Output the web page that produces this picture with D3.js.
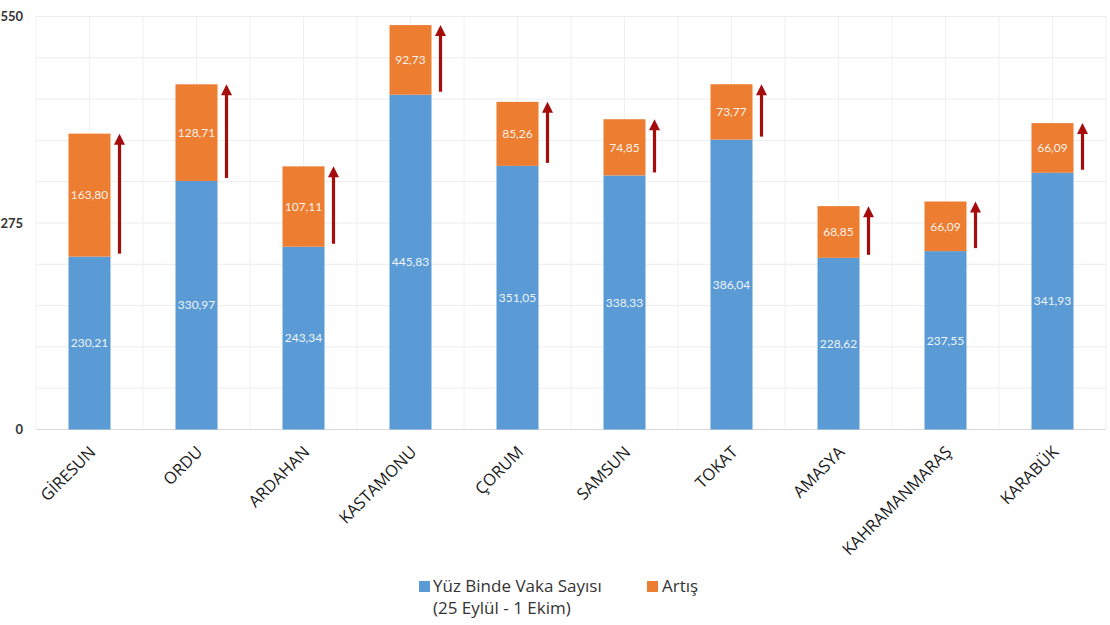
<!DOCTYPE html>
<html><head><meta charset="utf-8">
<script src="https://cdn.jsdelivr.net/npm/d3@7"></script>
<style>
html,body{margin:0;padding:0;background:#fff;}
svg{display:block;font-family:Lato,"Open Sans",sans-serif;}
</style></head>
<body><svg id="c" width="1110" height="625"></svg>
<script>
const categories = ["GİRESUN","ORDU","ARDAHAN","KASTAMONU","ÇORUM","SAMSUN","TOKAT","AMASYA","KAHRAMANMARAŞ","KARABÜK"];
const baseValues = [230.21,330.97,243.34,445.83,351.05,338.33,386.04,228.62,237.55,341.93];
const increaseValues = [163.80,128.71,107.11,92.73,85.26,74.85,73.77,68.85,66.09,66.09];
const yTicks = [0,275,550];
const yGrid = [0,55,110,165,220,275,330,385,440,495,550];
const seriesNames = ["Yüz Binde Vaka Sayısı|(25 Eylül - 1 Ekim)","Artış"];
const colors = ["#5b9bd5","#ed7d31"];

const svg = d3.select("#c");
const x = d3.scaleBand().domain(categories).range([36,1106]);
const y = d3.scaleLinear().domain([0,550]).range([429.5,16.5]);
const bw = 42;
const fmt = v => v.toFixed(2).replace(".", ",");

// gridlines
const g = svg.append("g");
g.selectAll("line.h").data(yGrid).join("line")
  .attr("x1",36).attr("x2",1106).attr("y1",d=>y(d)).attr("y2",d=>y(d))
  .attr("stroke",d=>d===0?"#d9d9d9":"#ececec").attr("stroke-width",1);
const vpos = [];
categories.forEach(c=>{vpos.push(x(c)); vpos.push(x(c)+x.bandwidth()/2);});
vpos.push(x(categories[categories.length-1])+x.bandwidth());
g.selectAll("line.v").data(vpos).join("line")
  .attr("x1",d=>d).attr("x2",d=>d).attr("y1",y(550)).attr("y2",y(0))
  .attr("stroke","#f0f0f0").attr("stroke-width",1);

// y axis labels
svg.append("g").selectAll("text").data(yTicks).join("text")
  .attr("x",23).attr("y",d=>y(d)).attr("dy","0.35em").attr("text-anchor","end")
  .attr("font-size",13).attr("font-weight","bold").attr("fill","#333")
  .text(d=>d);

const cx = c => x(c)+x.bandwidth()/2;
const data = categories.map((c,i)=>({c,b:baseValues[i],a:increaseValues[i]}));

// bars
svg.append("g").selectAll("rect").data(data).join("rect")
  .attr("x",d=>cx(d.c)-bw/2).attr("width",bw)
  .attr("y",d=>y(d.b)).attr("height",d=>y(0)-y(d.b)).attr("fill",colors[0]);
svg.append("g").selectAll("rect").data(data).join("rect")
  .attr("x",d=>cx(d.c)-bw/2).attr("width",bw)
  .attr("y",d=>y(d.b+d.a)).attr("height",d=>y(d.b)-y(d.b+d.a)).attr("fill",colors[1]);

// value labels
svg.append("g").selectAll("text").data(data).join("text")
  .attr("x",d=>cx(d.c)).attr("y",d=>(y(d.b)+y(0))/2).attr("dy","0.35em")
  .attr("text-anchor","middle").attr("font-size",12).attr("fill","#fff").attr("fill-opacity",0.92)
  .text(d=>fmt(d.b));
svg.append("g").selectAll("text").data(data).join("text")
  .attr("x",d=>cx(d.c)).attr("y",d=>(y(d.b)+y(d.b+d.a))/2).attr("dy","0.35em")
  .attr("text-anchor","middle").attr("font-size",12).attr("fill","#fff").attr("fill-opacity",0.92)
  .text(d=>fmt(d.a));

// arrows
const ag = svg.append("g");
data.forEach(d=>{
  const ax = cx(d.c)+30;
  const yTop = y(d.b+d.a);
  const yBot = y(d.b)-3;
  ag.append("line").attr("x1",ax).attr("x2",ax).attr("y1",yBot).attr("y2",yTop+8)
    .attr("stroke","#a50d0d").attr("stroke-width",3.2);
  ag.append("path").attr("d",`M${ax},${yTop} L${ax-5.5},${yTop+11} L${ax+5.5},${yTop+11} Z`)
    .attr("fill","#a50d0d");
});

// category labels
svg.append("g").selectAll("text").data(categories).join("text")
  .attr("transform",d=>`translate(${cx(d)+3},${449}) rotate(-45)`)
  .attr("text-anchor","end").attr("dy","0.35em")
  .attr("font-family","'Open Sans',sans-serif")
  .attr("font-size",16.5).attr("fill","#1a1a1a")
  .text(d=>d);

// legend
const lg = svg.append("g").attr("font-family","'Open Sans',sans-serif");
lg.append("rect").attr("x",419).attr("y",581).attr("width",11).attr("height",11).attr("fill",colors[0]);
const t1 = lg.append("text").attr("x",433).attr("y",592).attr("font-size",17).attr("fill","#333");
seriesNames[0].split("|").forEach((s,i)=>{
  t1.append("tspan").attr("x",433).attr("dy",i===0?0:22).text(s);
});
lg.append("rect").attr("x",647).attr("y",581).attr("width",11).attr("height",11).attr("fill",colors[1]);
lg.append("text").attr("x",662).attr("y",592).attr("font-size",17).attr("fill","#333").text(seriesNames[1]);
</script>
</body></html>
